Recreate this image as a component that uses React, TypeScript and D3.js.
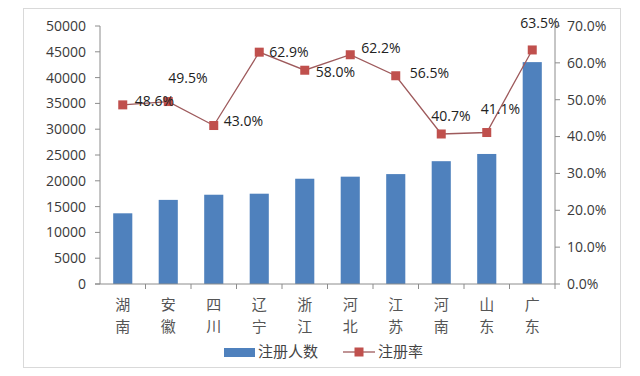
import React from "react";
import * as d3 from "d3";

const categories = ["湖南", "安徽", "四川", "辽宁", "浙江", "河北", "江苏", "河南", "山东", "广东"];
const registered = [13700, 16300, 17300, 17500, 20400, 20800, 21300, 23800, 25200, 43000];
const rate = [48.6, 49.5, 43.0, 62.9, 58.0, 62.2, 56.5, 40.7, 41.1, 63.5];
const leftTicks = [0, 5000, 10000, 15000, 20000, 25000, 30000, 35000, 40000, 45000, 50000];
const rightTicks = [0, 10, 20, 30, 40, 50, 60, 70];
const seriesNames = ["注册人数", "注册率"];

// label offsets (layout only): left edge dx and vertical-center dy relative to marker
const labelOffsets: [number, number][] = [
  [12, -4], [0, -23], [10, -4], [10, 0], [11, 2], [11, -7], [14, -3], [-10, -18], [-6, -23], [-12, -27],
];

const W = 640, H = 376;
const plot = { left: 100, right: 555, top: 26, bottom: 284 };
const FONT = "'Open Sans', 'Liberation Sans', sans-serif";
const CJK = "'Noto Sans CJK SC', sans-serif";
const BAR = "#4F81BD";
const LINE = "#9E5A5C";
const MARK = "#C0504D";
const AXIS = "#8C8C8C";
const TEXT = "#3A3A3A";

export default function App() {
  const x = d3.scaleBand<string>().domain(categories).range([plot.left, plot.right]).paddingInner(0.58).paddingOuter(0.29);
  const yL = d3.scaleLinear().domain([0, 50000]).range([plot.bottom, plot.top]);
  const yR = d3.scaleLinear().domain([0, 70]).range([plot.bottom, plot.top]);
  const cx = (c: string) => (x(c) as number) + x.bandwidth() / 2;
  const step = (plot.right - plot.left) / categories.length;
  const line = d3.line<number>().x((_, i) => cx(categories[i])).y((d) => yR(d));

  return (
    <svg width={W} height={H} style={{ position: "absolute", left: 0, top: 0, background: "#fff" }}>
      <rect x={23.5} y={8.5} width={597} height={359} fill="#fff" stroke="#D9D9D9" strokeWidth={1} />
      {/* bars */}
      {registered.map((v, i) => (
        <rect key={i} x={x(categories[i])} y={yL(v)} width={x.bandwidth()} height={plot.bottom - yL(v)} fill={BAR} />
      ))}
      {/* left axis */}
      <line x1={plot.left} x2={plot.left} y1={plot.top} y2={plot.bottom} stroke={AXIS} />
      {leftTicks.map((t) => (
        <g key={t}>
          <line x1={plot.left - 5} x2={plot.left} y1={yL(t)} y2={yL(t)} stroke={AXIS} />
          <text x={plot.left - 14} y={yL(t)} dy="0.35em" textAnchor="end" fontFamily={FONT} fontSize={14} fill={TEXT}>{t}</text>
        </g>
      ))}
      {/* right axis */}
      <line x1={plot.right} x2={plot.right} y1={plot.top} y2={plot.bottom} stroke={AXIS} />
      {rightTicks.map((t) => (
        <g key={t}>
          <line x1={plot.right} x2={plot.right + 5} y1={yR(t)} y2={yR(t)} stroke={AXIS} />
          <text x={plot.right + 12} y={yR(t)} dy="0.35em" textAnchor="start" fontFamily={FONT} fontSize={14} fill={TEXT}>{t.toFixed(1)}%</text>
        </g>
      ))}
      {/* x axis */}
      <line x1={plot.left - 5} x2={plot.right} y1={plot.bottom} y2={plot.bottom} stroke={AXIS} />
      {categories.map((c, i) => (
        <line key={"t" + i} x1={plot.left + step * (i + 1)} x2={plot.left + step * (i + 1)} y1={plot.bottom} y2={plot.bottom + 5} stroke={AXIS} />
      ))}
      {categories.map((c) => (
        <g key={c}>
          {c.split("").map((ch, j) => (
            <text key={j} x={cx(c)} y={305 + j * 22} dy="0.35em" textAnchor="middle" fontFamily={CJK} fontSize={15} fill="#555">{ch}</text>
          ))}
        </g>
      ))}
      {/* line series */}
      <path d={line(rate) || ""} fill="none" stroke={LINE} strokeWidth={1.3} />
      {rate.map((v, i) => (
        <rect key={"m" + i} x={cx(categories[i]) - 4.5} y={yR(v) - 4.5} width={9} height={9} fill={MARK} />
      ))}
      {rate.map((v, i) => (
        <text key={"l" + i} x={cx(categories[i]) + labelOffsets[i][0]} y={yR(v) + labelOffsets[i][1]} dy="0.35em" fontFamily={FONT} fontSize={14} fill="#222">{v.toFixed(1)}%</text>
      ))}
      {/* legend */}
      <rect x={224} y={348} width={31} height={9} fill={BAR} />
      <text x={258} y={352} dy="0.35em" fontFamily={CJK} fontSize={15} fill="#444">{seriesNames[0]}</text>
      <line x1={343} x2={375} y1={352} y2={352} stroke={LINE} strokeWidth={1.3} />
      <rect x={354.5} y={347.5} width={9} height={9} fill={MARK} />
      <text x={378} y={352} dy="0.35em" fontFamily={CJK} fontSize={15} fill="#444">{seriesNames[1]}</text>
    </svg>
  );
}
